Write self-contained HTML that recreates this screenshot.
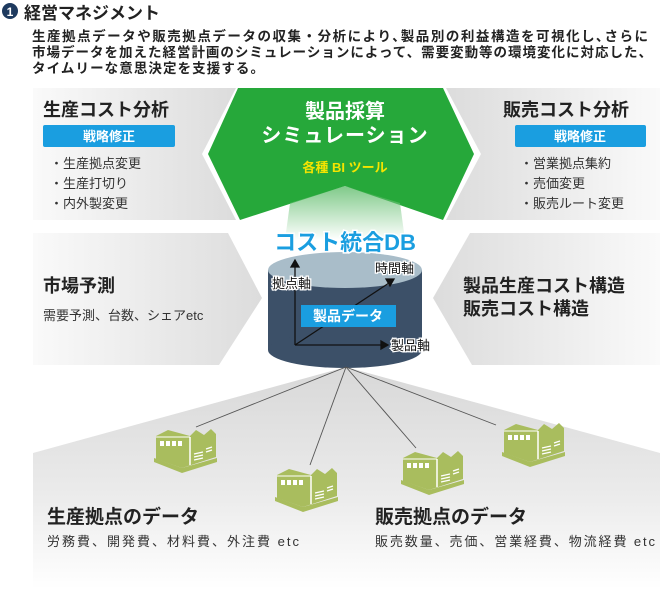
<!DOCTYPE html>
<html><head><meta charset="utf-8"><style>
html,body{margin:0;padding:0;background:#fff;}
svg{display:block;font-family:"Liberation Sans","Noto Sans CJK JP",sans-serif;}
.b{font-weight:bold;}
</style></head><body>
<svg width="660" height="589" viewBox="0 0 660 589" xmlns="http://www.w3.org/2000/svg">
<defs>
<linearGradient id="gl" x1="0" x2="1" y1="0" y2="0"><stop offset="0" stop-color="#fafafa"/><stop offset="1" stop-color="#dcdcdc"/></linearGradient>
<linearGradient id="gr" x1="1" x2="0" y1="0" y2="0"><stop offset="0" stop-color="#fafafa"/><stop offset="1" stop-color="#dcdcdc"/></linearGradient>
<linearGradient id="gb" x1="0" x2="0" y1="0" y2="1"><stop offset="0" stop-color="#d8d8d8"/><stop offset="0.6" stop-color="#ececec"/><stop offset="1" stop-color="#ffffff"/></linearGradient>
<linearGradient id="gt" x1="0" x2="0" y1="0" y2="1"><stop offset="0" stop-color="#2aa63a"/><stop offset="1" stop-color="#ffffff"/></linearGradient>
<g id="fac">
<polygon points="0,30 28,40 63,30 63,34 28,45 0,34" fill="#a9bd5e"/>
<polygon points="2,8 14,2 36,8 42,2 50,7 57,1 62,6 62,29 28,40 2,31" fill="#a9bd5e"/>
<line x1="36" y1="9" x2="36" y2="37" stroke="#fff" stroke-width="1.5"/>
<polyline points="2,9 36,9" stroke="#fff" stroke-width="1" fill="none"/>
<g fill="#fff"><rect x="6" y="13" width="4" height="5"/><rect x="12" y="13" width="4" height="5"/><rect x="18" y="13" width="4" height="5"/><rect x="24" y="13" width="4" height="5"/></g>
<g stroke="#fff" stroke-width="1.2"><line x1="40" y1="26" x2="49" y2="24"/><line x1="40" y1="29" x2="49" y2="27"/><line x1="40" y1="32" x2="49" y2="30"/><line x1="52" y1="21" x2="58" y2="19"/><line x1="52" y1="24" x2="58" y2="22"/></g>
</g>
</defs>
<!-- header -->
<circle cx="10" cy="11" r="8" fill="#1e3a5f"/>
<text x="10" y="16" font-size="12" fill="#fff" text-anchor="middle" class="b">1</text>
<text x="24" y="19" font-size="17" class="b" fill="#222">経営マネジメント</text>
<g font-size="13.5" class="b" fill="#222">
<text x="32" y="41" textLength="616" lengthAdjust="spacing">生産拠点データや販売拠点データの収集・分析により､製品別の利益構造を可視化し､さらに</text>
<text x="32" y="57" textLength="620" lengthAdjust="spacing">市場データを加えた経営計画のシミュレーションによって、需要変動等の環境変化に対応した、</text>
<text x="32" y="73" textLength="232" lengthAdjust="spacing">タイムリーな意思決定を支援する。</text>
</g>
<!-- bottom area -->
<polygon points="33,453 346,367 660,453 660,589 33,589" fill="url(#gb)"/>
<!-- panels -->
<polygon points="33,88 236,88 202,154 236,220 33,220" fill="url(#gl)"/>
<polygon points="660,88 446,88 481,154 446,220 660,220" fill="url(#gr)"/>
<polygon points="33,233 228,233 262,298 219,365 33,365" fill="url(#gl)"/>
<polygon points="660,233 470,233 433,298 472,365 660,365" fill="url(#gr)"/>
<!-- green hex -->
<polygon points="238,88 443,88 474,154 443,220 345,186 240,220 208,154" fill="#26a83a"/>
<polygon points="290,203 345,186 400,203 405,240 285,240" fill="url(#gt)" opacity="0.6"/>
<text x="345" y="118" font-size="20" class="b" fill="#fff" text-anchor="middle">製品採算</text>
<text x="345" y="142" font-size="20" class="b" fill="#fff" text-anchor="middle" letter-spacing="1">シミュレーション</text>
<text x="345" y="172" font-size="13" class="b" fill="#f5e400" text-anchor="middle">各種 BI ツール</text>
<!-- top-left text -->
<text x="43" y="116" font-size="18" class="b" fill="#222">生産コスト分析</text>
<rect x="43" y="125" width="132" height="22" rx="2" fill="#1a9ee0"/>
<text x="109" y="141" font-size="13" class="b" fill="#fff" text-anchor="middle">戦略修正</text>
<g font-size="13" fill="#333"><text x="50" y="168">・生産拠点変更</text><text x="50" y="188">・生産打切り</text><text x="50" y="208">・内外製変更</text></g>
<text x="503" y="116" font-size="18" class="b" fill="#222">販売コスト分析</text>
<rect x="515" y="125" width="131" height="22" rx="2" fill="#1a9ee0"/>
<text x="580" y="141" font-size="13" class="b" fill="#fff" text-anchor="middle">戦略修正</text>
<g font-size="13" fill="#333"><text x="520" y="168">・営業拠点集約</text><text x="520" y="188">・売価変更</text><text x="520" y="208">・販売ルート変更</text></g>
<text x="43" y="292" font-size="18" class="b" fill="#222">市場予測</text>
<text x="43" y="320" font-size="13" fill="#333">需要予測、台数、シェアetc</text>
<text x="463" y="292" font-size="18" class="b" fill="#222">製品生産コスト構造</text>
<text x="463" y="315" font-size="18" class="b" fill="#222">販売コスト構造</text>
<!-- cylinder -->
<rect x="268" y="270" width="154" height="80" fill="#3c5068"/>
<ellipse cx="345" cy="350" rx="77" ry="18" fill="#3c5068"/>
<ellipse cx="345" cy="270" rx="77" ry="18" fill="#a9bdc9"/>
<text x="345" y="250" font-size="22" class="b" fill="#1a9ee0" text-anchor="middle" stroke="#fff" stroke-width="3" paint-order="stroke">コスト統合DB</text>
<g stroke="#111" stroke-width="1.3" fill="#111">
<line x1="295" y1="345" x2="295" y2="266"/><polygon points="291,267 299,267 295,260"/>
<line x1="295" y1="345" x2="381" y2="345"/><polygon points="381,341 381,349 388,345"/>
<line x1="295" y1="345" x2="389" y2="283"/><polygon points="386,279 390,286 394,279"/>
</g>
<g font-size="13" fill="#111" stroke="#fff" stroke-width="2.5" paint-order="stroke">
<text x="272" y="288">拠点軸</text><text x="375" y="273">時間軸</text><text x="391" y="350">製品軸</text>
</g>
<rect x="301" y="305" width="95" height="22" fill="#1a9ee0"/>
<text x="348" y="321" font-size="14" class="b" fill="#fff" text-anchor="middle">製品データ</text>
<!-- lines -->
<g stroke="#555" stroke-width="0.9">
<line x1="346" y1="367" x2="196" y2="427"/><line x1="346" y1="367" x2="310" y2="465"/>
<line x1="346" y1="367" x2="416" y2="448"/><line x1="346" y1="367" x2="496" y2="425"/>
</g>
<use href="#fac" x="154" y="428"/>
<use href="#fac" x="275" y="467"/>
<use href="#fac" x="401" y="450"/>
<use href="#fac" x="502" y="422"/>
<text x="47" y="523" font-size="19" class="b" fill="#222">生産拠点のデータ</text>
<text x="47" y="546" font-size="13" fill="#333" textLength="252" lengthAdjust="spacing">労務費、開発費、材料費、外注費 etc</text>
<text x="375" y="523" font-size="19" class="b" fill="#222">販売拠点のデータ</text>
<text x="375" y="546" font-size="13" fill="#333" textLength="280" lengthAdjust="spacing">販売数量、売価、営業経費、物流経費 etc</text>
</svg>
</body></html>
